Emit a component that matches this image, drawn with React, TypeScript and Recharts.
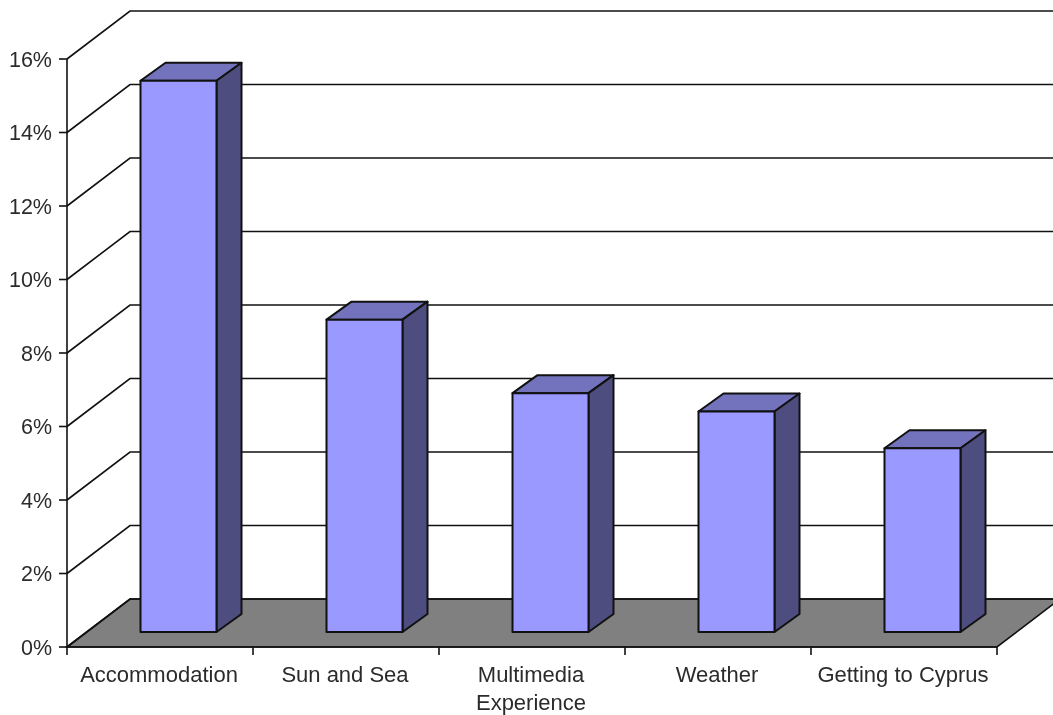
import React from "react";
import { BarChart, Bar, XAxis, YAxis, CartesianGrid, Text } from "recharts";

// Share of mentions per topic
const CATEGORIES = ["Accommodation", "Sun and Sea", "Multimedia Experience", "Weather", "Getting to Cyprus"];
const VALUES = [15, 8.5, 6.5, 6, 5];
const Y_TICKS = [0, 2, 4, 6, 8, 10, 12, 14, 16];

const CHART_DATA = CATEGORIES.map((name, i) => ({ name, value: VALUES[i] }));

const WIDTH = 1053;
const HEIGHT = 715;
const X_AXIS_HEIGHT = 68;
const MARGIN = { top: 59, right: 56, bottom: 0, left: 0 };
const Y_AXIS_WIDTH = 67;
const PLOT_BOTTOM = HEIGHT - X_AXIS_HEIGHT;
const HALF_BAND = (WIDTH - MARGIN.right - Y_AXIS_WIDTH) / CATEGORIES.length / 2;

// Fake 3D: how far the back wall sits from the axes
const WALL_DX = 63;
const WALL_DY = -48;
// Bars stand a little behind the front edge of the floor
const BAR_DX = 18.5;
const BAR_DY = -15;
const BAR_DEPTH_X = 25;
const BAR_DEPTH_Y = -18;

const LINE = "#111";
const TEXT = "#2b2b2b";
const FONT = "Liberation Sans, Arial, sans-serif";

// Wall gridline: diagonal up the side wall, then across the back wall
function wallLine(props: any) {
  const { x1, y1, x2, y2 } = props;
  const isFloor = Math.abs(y1 - PLOT_BOTTOM) < 1;
  const bx = x1 + WALL_DX;
  const by = y1 + WALL_DY;
  return (
    <g>
      {isFloor && (
        <polygon
          points={`${x1},${y1} ${bx},${by} ${x2 + WALL_DX},${y2 + WALL_DY} ${x2},${y2}`}
          fill="#808080"
          stroke={LINE}
          strokeWidth={1.6}
        />
      )}
      <polyline
        points={`${x1},${y1} ${bx},${by} ${x2 + WALL_DX},${by}`}
        fill="none"
        stroke={LINE}
        strokeWidth={1.6}
      />
    </g>
  );
}

function Bar3D(props: any) {
  const { x, y, width, height } = props;
  const l = x + BAR_DX;
  const r = l + width;
  const t = y + BAR_DY;
  const b = y + height + BAR_DY;
  return (
    <g stroke={LINE} strokeWidth={2} strokeLinejoin="round">
      <polygon
        points={`${l},${t} ${l + BAR_DEPTH_X},${t + BAR_DEPTH_Y} ${r + BAR_DEPTH_X},${t + BAR_DEPTH_Y} ${r},${t}`}
        fill="#7373BD"
      />
      <polygon
        points={`${r},${t} ${r + BAR_DEPTH_X},${t + BAR_DEPTH_Y} ${r + BAR_DEPTH_X},${b + BAR_DEPTH_Y} ${r},${b}`}
        fill="#4D4D80"
      />
      <rect x={l} y={t} width={width} height={height} fill="#9999FF" />
    </g>
  );
}

// Ticks sit on the category boundaries, not the band centres
function CategoryTick(props: any) {
  const { x, y, payload, index } = props;
  return (
    <g>
      {index === 0 && <line x1={x - HALF_BAND} x2={x - HALF_BAND} y1={y} y2={y + 8} stroke={LINE} strokeWidth={1.6} />}
      <line x1={x + HALF_BAND} x2={x + HALF_BAND} y1={y} y2={y + 8} stroke={LINE} strokeWidth={1.6} />
      <Text
        x={x - 1}
        y={y + 19}
        width={150}
        lineHeight={28}
        textAnchor="middle"
        verticalAnchor="start"
        style={{ fontSize: 22, fontFamily: FONT }}
        fill={TEXT}
      >
        {payload.value}
      </Text>
    </g>
  );
}

export default function App() {
  return (
    <div style={{ position: "absolute", left: 0, top: 0, width: WIDTH, height: HEIGHT, filter: "blur(0.4px)" }}>
      <BarChart width={WIDTH} height={HEIGHT} data={CHART_DATA} margin={MARGIN} barSize={76}>
        <CartesianGrid vertical={false} horizontal={wallLine} />
        <XAxis
          dataKey="name"
          interval={0}
          height={X_AXIS_HEIGHT}
          tickLine={false}
          tickSize={0}
          tickMargin={0}
          axisLine={{ stroke: LINE, strokeWidth: 1.6 }}
          tick={CategoryTick}
        />
        <YAxis
          width={Y_AXIS_WIDTH}
          domain={[0, 16]}
          ticks={Y_TICKS}
          interval={0}
          tickFormatter={(v: number) => `${v}%`}
          tickSize={8}
          tickMargin={7}
          tickLine={{ stroke: LINE, strokeWidth: 1.6 }}
          axisLine={{ stroke: LINE, strokeWidth: 1.6 }}
          tick={{ fontSize: 21.5, fontFamily: FONT, fill: TEXT }}
        />
        <Bar dataKey="value" shape={Bar3D} isAnimationActive={false} />
      </BarChart>
    </div>
  );
}
